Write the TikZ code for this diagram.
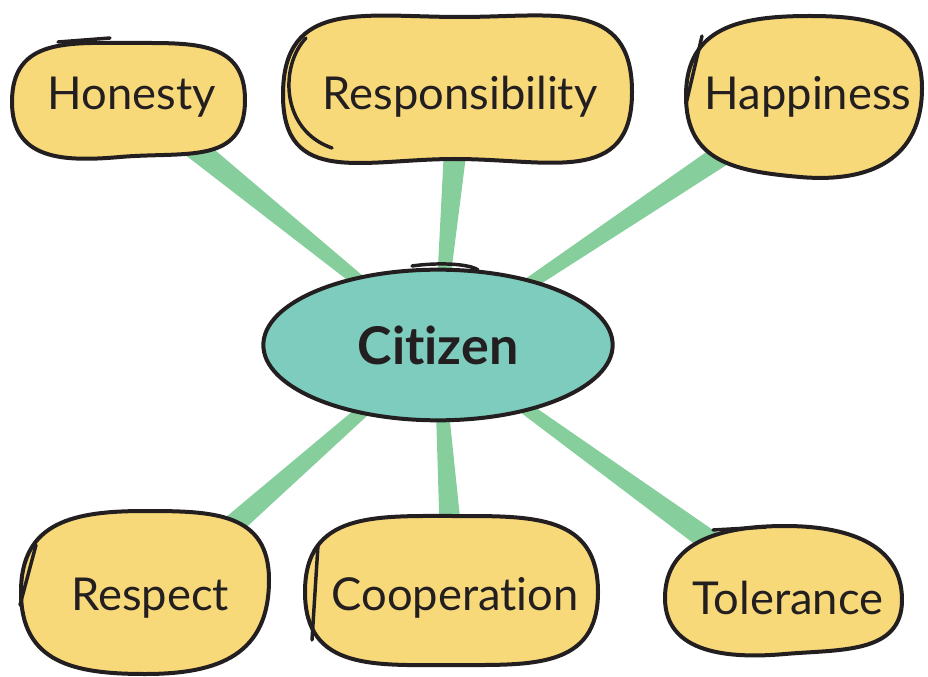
\documentclass[tikz,border=0pt]{standalone}
\usepackage{fontspec}
\setmainfont{Lato}[Ligatures=NoCommon]
\usetikzlibrary{shapes.geometric, backgrounds, calc}

\definecolor{blobyellow}{HTML}{F8D97A}
\definecolor{citizenteal}{HTML}{7DCCBE}
\definecolor{linkgreen}{HTML}{86CE9C}
\definecolor{ink}{HTML}{231F20}

\tikzset{
	blob/.style={fill=blobyellow, draw=ink, line width=3pt, line join=round, looseness=#1},
	blob/.default=1.22,
	pen/.style={draw=ink, line width=2.6pt, line cap=round},
	word/.style={font=\fontsize{34}{40}\selectfont, text=ink, inner sep=0pt},
}

\begin{document}
\begin{tikzpicture}[x=0.75pt, y=-0.75pt]
	\useasboundingbox (0,0) rectangle (928,677);

	\draw[blob] (245,100) to[out=-90,in=5] (120,157) to[out=185,in=-90] (12,102) to[out=90,in=180] (135,43) to[out=0,in=90] (245,100) -- cycle;
	\draw[pen] (58,42) -- (110,38);
	\node[word] (honesty) at (132,97) {Honesty};

	\draw[blob=1.28] (632,92) to[out=-90,in=0] (455,159) to[out=180,in=-90] (283,95) to[out=90,in=180] (460,17) to[out=0,in=90] (632,92) -- cycle;
	\draw[pen] (306,38) .. controls (280,65) and (280,130) .. (332,148);
	\node[word] (responsibility) at (460,97) {Responsibility};

	\draw[blob=1.2] (922,88) to[out=-90,in=-5] (800,177) to[out=175,in=-90] (686,96) to[out=90,in=180] (810,16) to[out=0,in=90] (922,88) -- cycle;
	\draw[pen] (702,36) -- (686,104);
	\node[word] (happiness) at (808,97) {Happiness};

	\draw[blob] (269,580) to[out=-90,in=0] (145,674) to[out=180,in=-90] (21,592) to[out=90,in=180] (145,511) to[out=0,in=90] (269,580) -- cycle;
	\draw[pen] (36,545) -- (20,605);
	\node[word] (respect) at (150,598) {Respect};

	\draw[blob] (598,592) to[out=-90,in=0] (455,665) to[out=180,in=-90] (305,592) to[out=90,in=180] (455,516) to[out=0,in=90] (598,592) -- cycle;
	\draw[pen] (318,545) -- (312,640);
	\node[word] (cooperation) at (455,598) {Cooperation};

	\draw[blob=1.08] (902,600) to[out=-90,in=5] (785,654) to[out=185,in=-90] (665,598) to[out=90,in=180] (785,526) to[out=0,in=90] (902,600) -- cycle;
	\draw[pen] (713,530) -- (766,527);
	\node[word] (tolerance) at (788,598) {Tolerance};

	\node[ellipse, fill=citizenteal, draw=ink, line width=3pt, minimum width=262pt, minimum height=113pt,
		font=\bfseries\fontsize{39}{44}\selectfont, text=ink] (citizen) at (438,345) {Citizen};
	\draw[pen] (412,266) .. controls (440,262) and (470,264) .. (478,270);

	\begin{pgfonlayer}{background}
		\foreach \n in {honesty, responsibility, happiness, respect, cooperation, tolerance}
			\fill[linkgreen] ($(citizen.center)!3pt!90:(\n.center)$) -- ($(\n.center)!10pt!-90:(citizen.center)$)
				-- ($(\n.center)!10pt!90:(citizen.center)$) -- ($(citizen.center)!3pt!-90:(\n.center)$) -- cycle;
	\end{pgfonlayer}
\end{tikzpicture}
\end{document}
